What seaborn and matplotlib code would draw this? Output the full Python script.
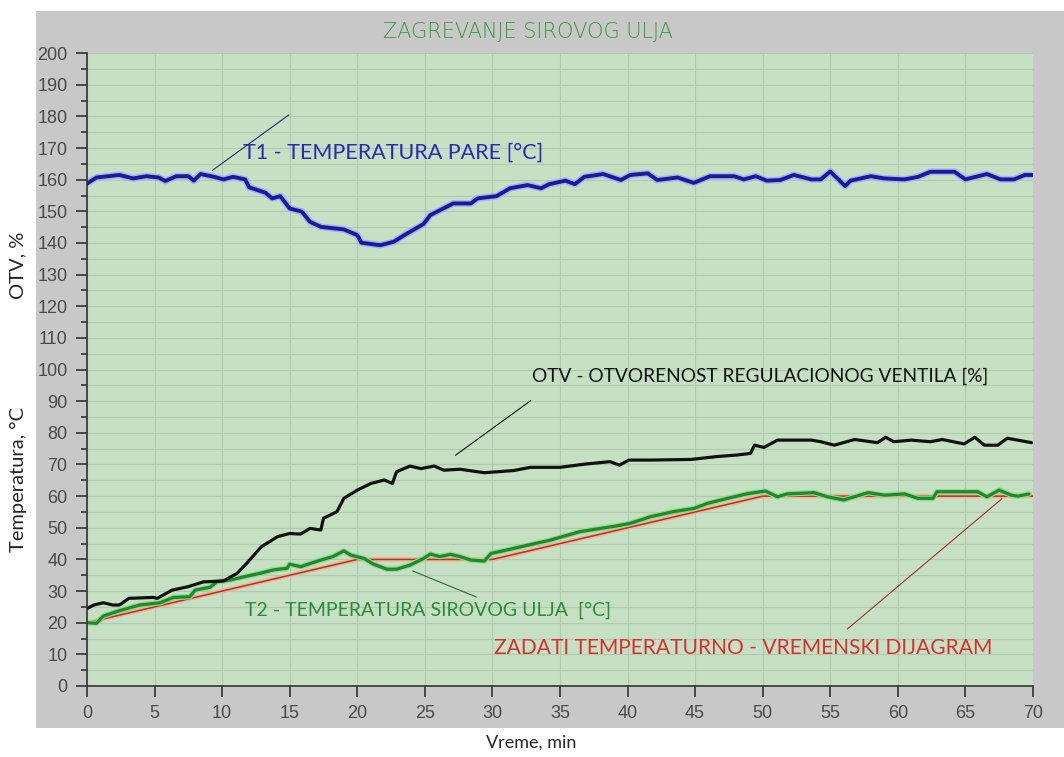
import pandas as pd
import matplotlib
matplotlib.use("Agg")
import matplotlib.pyplot as plt
import matplotlib.patheffects as pe
from matplotlib.patches import Rectangle
import seaborn as sns


# ---------- T1 - steam temperature ----------
t1_time = [0, 0.7, 2.4, 3.4, 4.4, 5.3, 5.8, 6.6, 7.5, 7.9, 8.4, 9.4, 10.1, 10.8, 11.7,
           12.0, 13.2, 13.7, 14.3, 15.0, 15.9, 16.5, 17.3, 19.0, 20.0, 20.3, 21.7, 22.7,
           23.6, 24.9, 25.4, 27.1, 28.4, 28.9, 30.3, 31.3, 32.6, 33.6, 34.2, 35.4, 36.1,
           36.8, 38.2, 39.5, 40.2, 41.5, 42.2, 43.7, 44.9, 46.1, 47.9, 48.6, 49.5, 50.3,
           51.3, 52.3, 53.6, 54.3, 55.0, 55.7, 56.1, 56.5, 58.0, 59.0, 60.5, 61.5, 62.4,
           64.2, 65.0, 66.6, 67.6, 68.6, 69.4, 70.0]
t1_temp = [158.8, 160.7, 161.5, 160.4, 161.1, 160.7, 159.6, 161.1, 161.1, 159.7, 161.8,
           160.9, 160.1, 160.9, 160.1, 157.6, 155.9, 154.1, 154.8, 150.9, 149.9, 146.7,
           145.1, 144.3, 142.5, 140.1, 139.3, 140.4, 142.8, 146.0, 148.8, 152.5, 152.5,
           154.1, 154.8, 157.3, 158.3, 157.3, 158.6, 159.7, 158.6, 160.9, 161.8, 159.9,
           161.5, 162.0, 159.9, 160.7, 159.0, 161.1, 161.1, 160.1, 161.1, 159.7, 159.9,
           161.5, 160.1, 160.1, 162.6, 159.7, 158.0, 159.7, 161.1, 160.4, 160.1, 160.9,
           162.5, 162.5, 160.1, 161.8, 160.1, 160.1, 161.5, 161.5]

# ---------- OTV - valve opening ----------
otv_time = [0, 0.5, 1.2, 1.9, 2.4, 3.1, 4.9, 5.2, 6.3, 7.5, 8.6, 10.1, 11.1, 11.8, 12.9,
            14.1, 15.0, 15.8, 16.5, 17.3, 17.5, 18.5, 19.0, 20.0, 21.0, 22.0, 22.6, 22.9,
            23.9, 24.7, 25.7, 26.4, 27.6, 29.4, 31.6, 32.8, 35.0, 36.8, 38.7, 39.4, 40.1,
            41.7, 44.7, 46.6, 48.1, 49.1, 49.4, 50.1, 51.1, 53.6, 54.3, 55.3, 56.8, 58.5,
            59.1, 59.7, 61.0, 62.4, 63.3, 64.9, 65.7, 66.4, 67.4, 68.1, 69.9]
otv_pct = [24.5, 25.6, 26.3, 25.6, 25.6, 27.7, 28.0, 27.7, 30.3, 31.4, 32.9, 33.2, 35.6,
           38.7, 44.0, 47.2, 48.2, 48.0, 49.8, 49.3, 53.0, 55.1, 59.3, 61.9, 64.0, 65.1,
           64.0, 67.7, 69.5, 68.7, 69.5, 68.2, 68.5, 67.4, 68.1, 69.1, 69.1, 70.1, 70.9,
           69.8, 71.4, 71.4, 71.6, 72.5, 73.0, 73.5, 76.1, 75.4, 77.7, 77.7, 77.2, 76.1,
           77.9, 76.9, 78.6, 77.2, 77.7, 77.2, 77.9, 76.5, 78.6, 76.1, 76.1, 78.3, 76.9]

# ---------- T2 - crude oil temperature ----------
t2_time = [0, 0.7, 1.2, 2.4, 3.9, 5.4, 6.4, 7.6, 8.0, 9.1, 9.6, 10.6, 11.6, 12.8, 13.8,
           14.8, 15.0, 15.8, 16.5, 17.3, 18.2, 19.0, 19.5, 20.5, 21.2, 22.2, 22.9, 23.9,
           24.9, 25.4, 26.1, 26.9, 27.6, 28.4, 29.4, 29.9, 31.3, 32.6, 34.2, 36.5, 39.2,
           40.2, 41.7, 43.4, 44.9, 45.9, 47.4, 48.9, 50.2, 51.1, 51.8, 53.8, 54.8, 56.0,
           57.8, 59.0, 60.5, 61.5, 62.6, 62.9, 65.9, 66.6, 67.5, 68.4, 68.9, 69.7]
t2_temp = [20.0, 19.8, 22.1, 23.8, 25.6, 26.3, 28.0, 28.2, 30.3, 31.2, 32.9, 33.5, 34.5,
           35.6, 36.7, 37.2, 38.5, 37.7, 38.7, 39.8, 40.9, 42.7, 41.4, 40.3, 38.5, 36.9,
           36.9, 38.2, 40.3, 41.7, 40.9, 41.6, 40.9, 39.8, 39.5, 41.9, 43.2, 44.5, 46.0,
           48.8, 50.6, 51.4, 53.5, 55.1, 56.1, 57.7, 59.3, 60.8, 61.6, 59.8, 60.7, 61.1,
           59.8, 58.8, 61.1, 60.3, 60.7, 59.3, 59.3, 61.4, 61.4, 59.8, 61.9, 60.3, 60.0,
           60.7]

# ---------- setpoint temperature-time diagram ----------
sp_time = [0, 20, 30, 50, 70]
sp_temp = [20, 40, 40, 60, 60]

t1_df = pd.DataFrame({"Vreme": t1_time, "Vrednost": t1_temp})
otv_df = pd.DataFrame({"Vreme": otv_time, "Vrednost": otv_pct})
t2_df = pd.DataFrame({"Vreme": t2_time, "Vrednost": t2_temp})
sp_df = pd.DataFrame({"Vreme": sp_time, "Vrednost": sp_temp})

sns.set_style("white")
plt.rcParams['font.family'] = ['Lato', 'DejaVu Sans']

fig = plt.figure(figsize=(10.64, 7.57), dpi=100)
fig.patch.set_facecolor("white")
fig.patches.append(Rectangle((0.0338, 0.0383), 0.9662, 0.947, transform=fig.transFigure,
                             facecolor="#c8c8c8", edgecolor="none", zorder=-10))
ax = fig.add_axes([0.0818, 0.0938, 0.889, 0.836])
ax.set_facecolor("#c6e0c4")

# ---------- lines ----------
sns.lineplot(data=sp_df, x="Vreme", y="Vrednost", ax=ax, color="#b8302a", linewidth=1.1,
             sort=False, estimator=None,
             path_effects=[pe.Stroke(linewidth=3.2, foreground="#e9b896"), pe.Normal()])
sns.lineplot(data=t2_df, x="Vreme", y="Vrednost", ax=ax, color="#208a28", linewidth=2.3,
             sort=False, estimator=None,
             path_effects=[pe.Stroke(linewidth=4, foreground="#92d692"), pe.Normal()])
sns.lineplot(data=otv_df, x="Vreme", y="Vrednost", ax=ax, color="#111111", linewidth=2.3,
             sort=False, estimator=None)
sns.lineplot(data=t1_df, x="Vreme", y="Vrednost", ax=ax, color="#1a1a9a", linewidth=2.8,
             sort=False, estimator=None,
             path_effects=[pe.Stroke(linewidth=5, foreground="#a2b8ee"), pe.Normal()])

# ---------- axes ----------
ax.set_xlim(0, 70)
ax.set_ylim(0, 200)
ax.set_xticks(range(0, 71, 5))
ax.set_yticks(range(0, 201, 10))
ax.set_yticks(range(5, 200, 10), minor=True)
ax.grid(True, which="both", axis="y", color="#b2c9af", linewidth=0.8)
ax.grid(True, which="major", axis="x", color="#b2c9af", linewidth=0.8)
ax.set_axisbelow(True)
for s in ["top", "right"]:
    ax.spines[s].set_visible(False)
for s in ["left", "bottom"]:
    ax.spines[s].set_color("#333333")
    ax.spines[s].set_linewidth(1.2)
ax.tick_params(which="major", direction="out", length=8, width=1.2, color="#333333",
               left=True, bottom=True, labelsize=13, labelcolor="#4a4a4a", pad=6)
ax.tick_params(which="minor", direction="out", length=4, width=1.2, color="#333333", left=True)
for lab in ax.get_xticklabels() + ax.get_yticklabels():
    lab.set_family("Liberation Sans")
ax.set_xlabel("")
ax.set_ylabel("")

# ---------- labels ----------
fig.text(0.496, 0.958, "ZAGREVANJE SIROVOG ULJA", color="#3a9a3a", fontsize=15,
         ha="center", va="center", family="DejaVu Sans", fontweight="light")
fig.text(0.499, 0.019, "Vreme, min", fontsize=13, ha="center", va="center")
fig.text(0.017, 0.366, "Temperatura, \u00b0C", fontsize=14.5, rotation=90, ha="center", va="center")
fig.text(0.017, 0.649, "OTV, %", fontsize=14.5, rotation=90, ha="center", va="center")

ax.text(11.56, 168.7, "T1 - TEMPERATURA PARE [\u00b0C]", color="#2a2ab4", fontsize=15.5, va="center")
ax.text(32.9, 97.9, "OTV - OTVORENOST REGULACIONOG VENTILA [%]", color="#111111", fontsize=13.8, va="center")
ax.text(11.7, 24.0, "T2 - TEMPERATURA SIROVOG ULJA  [\u00b0C]", color="#2e8b3a", fontsize=14, va="center")
ax.text(30.1, 12.0, "ZADATI TEMPERATURNO - VREMENSKI DIJAGRAM", color="#d83030", fontsize=15.1, va="center")

ax.annotate("", xy=(9.1, 162.4), xytext=(15.1, 181.0),
            arrowprops=dict(arrowstyle="-", color="#2a2a70", lw=0.8))
ax.annotate("", xy=(27.1, 72.4), xytext=(33.0, 90.7),
            arrowprops=dict(arrowstyle="-", color="#111111", lw=0.8))
ax.annotate("", xy=(23.9, 36.7), xytext=(29.0, 27.8),
            arrowprops=dict(arrowstyle="-", color="#2a6a3a", lw=0.8))
ax.annotate("", xy=(67.85, 59.7), xytext=(56.1, 17.4),
            arrowprops=dict(arrowstyle="-", color="#a03030", lw=0.8))

fig.savefig("out.png", dpi=100)
